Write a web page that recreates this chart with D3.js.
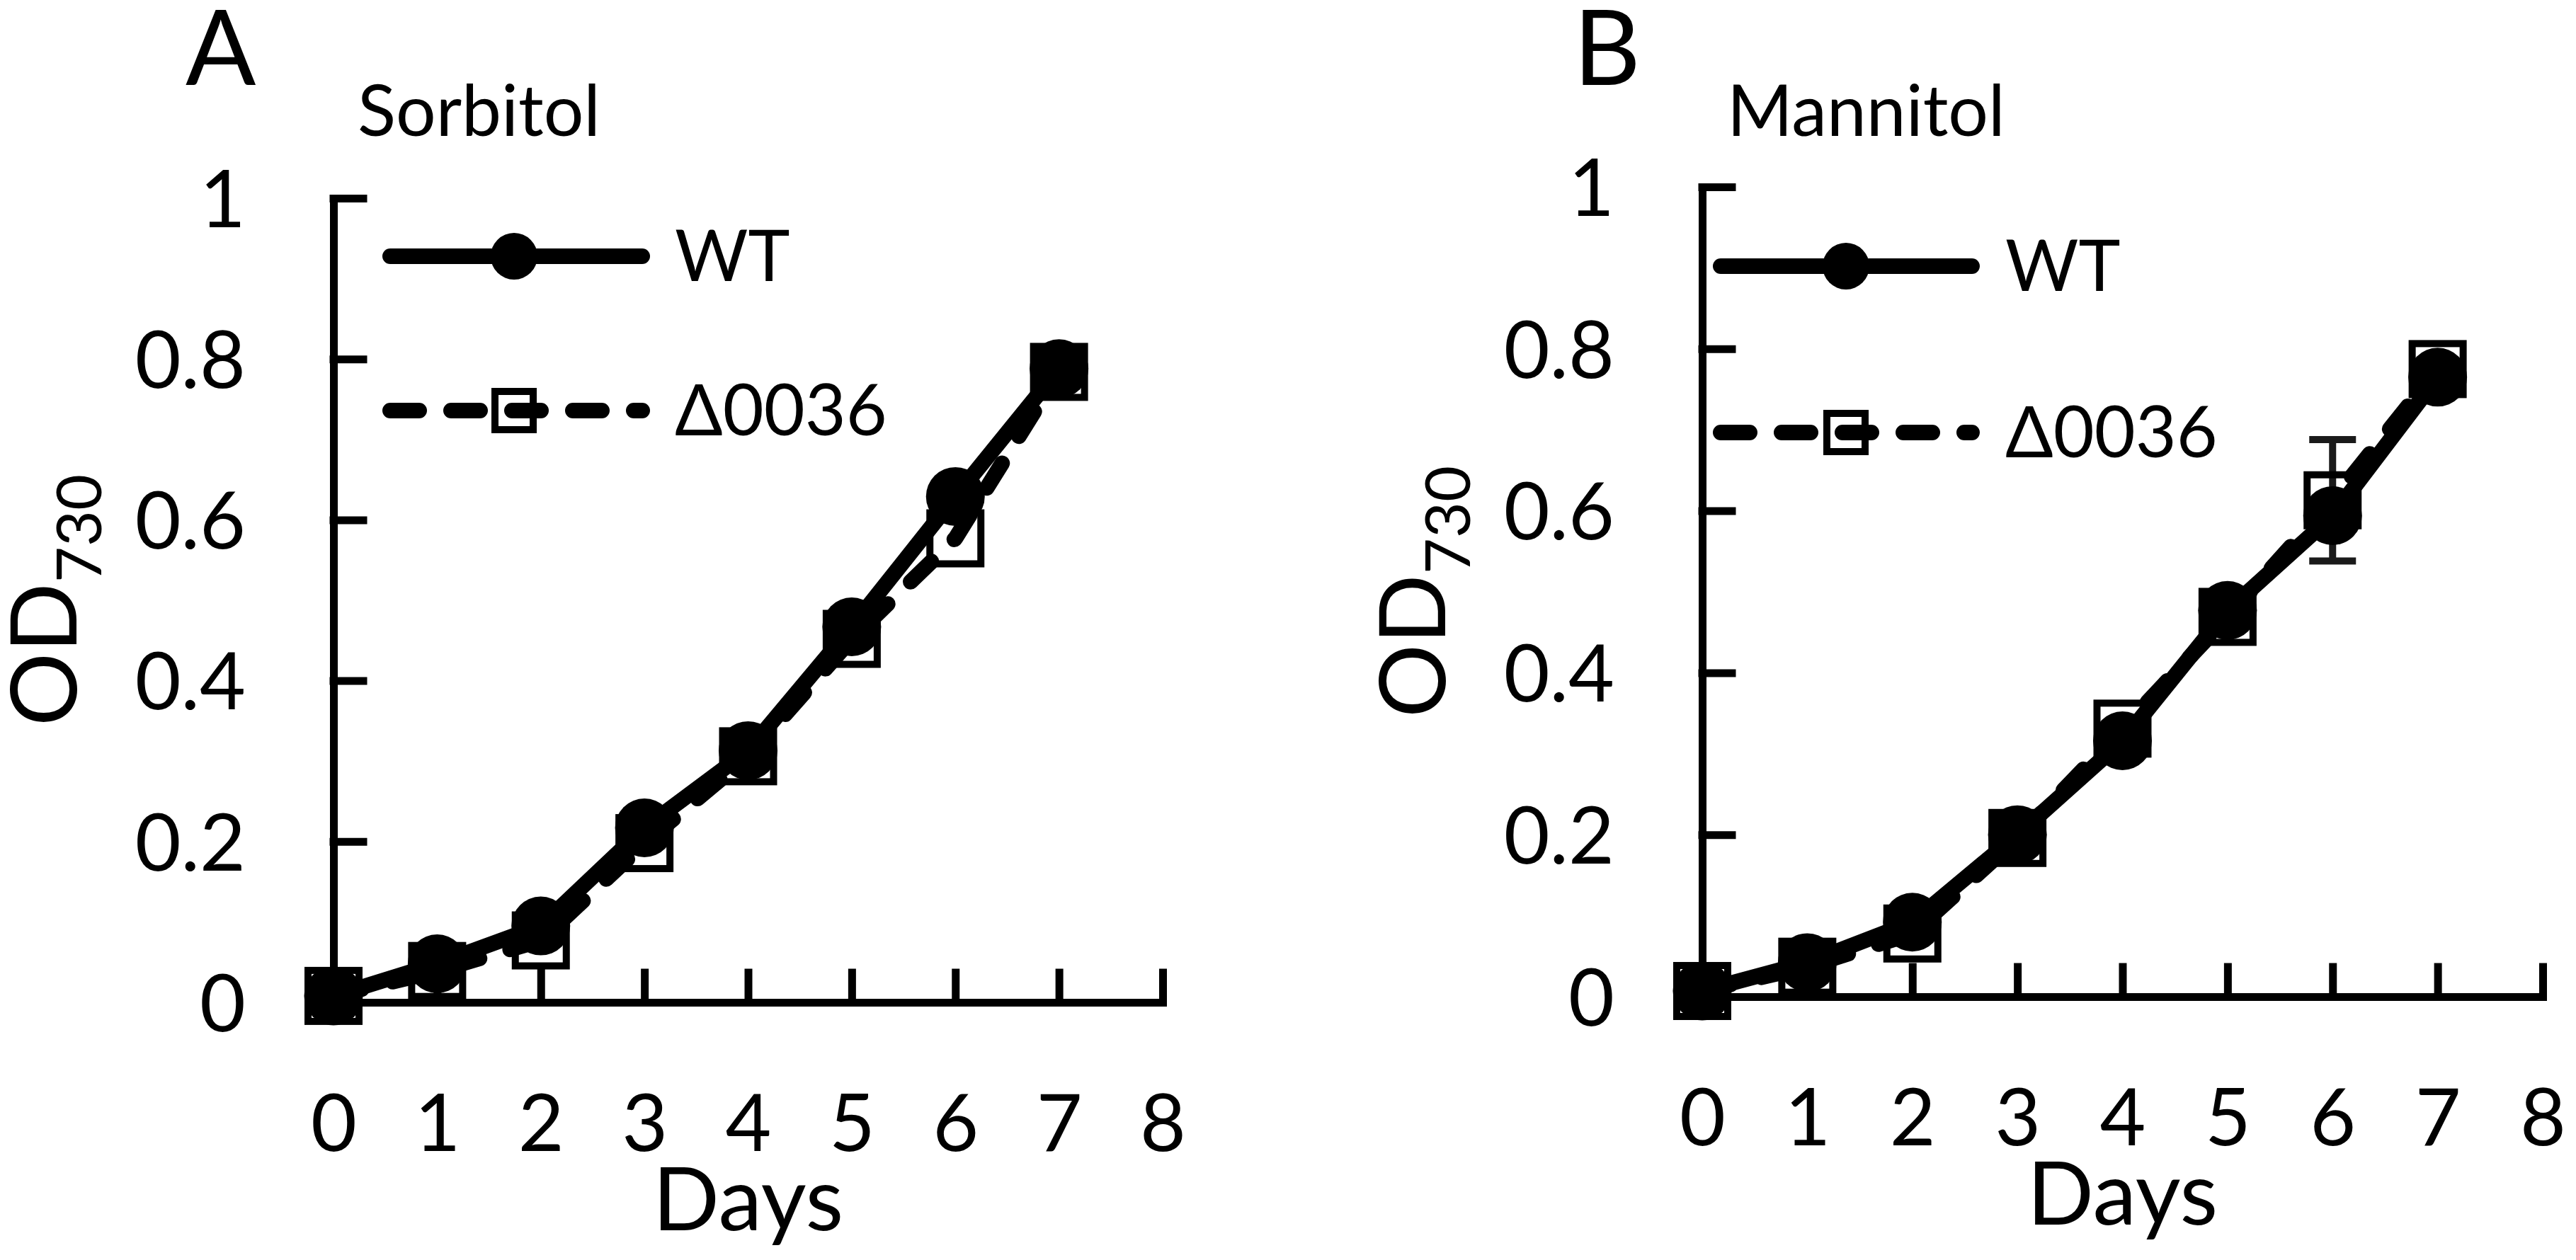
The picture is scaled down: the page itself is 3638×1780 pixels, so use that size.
<!DOCTYPE html>
<html>
<head>
<meta charset="utf-8">
<script src="https://cdn.jsdelivr.net/npm/d3@7"></script>
<style>
  body { margin: 0; background: #fff; }
  svg { display: block; }
  text { font-family: Lato, "Open Sans", sans-serif; fill: #000; }
</style>
</head>
<body>
<div id="chart"></div>
<script>
// values (OD730 per day)
const days = [0, 1, 2, 3, 4, 5, 6, 7];
const xTicks = [0, 1, 2, 3, 4, 5, 6, 7, 8];
const yTicks = [0, 0.2, 0.4, 0.6, 0.8, 1];
const seriesNames = ["WT", "Δ0036"];

const sorbitolWT  = [0.008, 0.048, 0.095, 0.217, 0.313, 0.467, 0.629, 0.788];
const sorbitolMut = [0.008, 0.039, 0.077, 0.198, 0.306, 0.452, 0.577, 0.784];
const sorbitolMutErr = [0, 0, 0, 0, 0, 0, 0, 0];

const mannitolWT  = [0.007, 0.042, 0.092, 0.200, 0.316, 0.477, 0.594, 0.765];
const mannitolMut = [0.007, 0.037, 0.078, 0.196, 0.331, 0.469, 0.613, 0.775];
const mannitolMutErr = [0, 0, 0, 0, 0, 0, 0.075, 0];

const W = 3638, H = 1780;

const panels = [
  { letter: "A", title: "Sorbitol", wt: sorbitolWT, mut: sorbitolMut, err: sorbitolMutErr,
    box: { left: 471, right: 1642, bottom: 1416, top: 280 },
    letterX: 262, titleX: 505,
    legend: { x0: 540, x1: 918, mark: 726, text: 953, rows: [362, 580] } },
  { letter: "B", title: "Mannitol", wt: mannitolWT, mut: mannitolMut, err: mannitolMutErr,
    box: { left: 2404, right: 3591, bottom: 1408, top: 264 },
    letterX: 2222, titleX: 2439,
    legend: { x0: 2419, x1: 2796, mark: 2607, text: 2832, rows: [376, 611] } }
];

const lineW = 22, axisW = 11, markR = 41.5, markSq = 82, legR = 33, legSq = 64;
const dash = "41,45";

const svg = d3.select("#chart").append("svg")
  .attr("width", W)
  .attr("height", H);

svg.append("rect").attr("width", W).attr("height", H).attr("fill", "#fff");

panels.forEach(p => {
  const b = p.box;
  const x = d3.scaleLinear().domain([0, 8]).range([b.left, b.right]);
  const y = d3.scaleLinear().domain([0, 1]).range([b.bottom, b.top]);
  const g = svg.append("g");

  // panel letter + condition
  g.append("text").attr("x", p.letterX).attr("y", 120)
    .attr("font-size", 147).text(p.letter);
  g.append("text").attr("x", p.titleX).attr("y", 192)
    .attr("font-size", 100).text(p.title);

  // axes, ticks pointing inward
  const xAxis = d3.axisBottom(x).tickValues(xTicks).tickFormat(d3.format("d"))
    .tickSize(-42).tickSizeOuter(0).tickPadding(130);
  const yAxis = d3.axisLeft(y).tickValues(yTicks).tickFormat(d => String(+d.toFixed(1)))
    .tickSize(-42).tickSizeOuter(0).tickPadding(124);

  const gx = g.append("g").attr("transform", `translate(0,${b.bottom})`).call(xAxis);
  const gy = g.append("g").attr("transform", `translate(${b.left},0)`).call(yAxis);
  [gx, gy].forEach(a => {
    a.selectAll("path, line").attr("stroke", "#000").attr("stroke-width", axisW)
      .attr("stroke-linecap", "square");
    a.selectAll("text").attr("font-size", 112).attr("font-family", "Lato");
  });
  gy.selectAll("text").attr("dy", "0.36em");

  // axis titles
  g.append("text")
    .attr("x", (b.left + b.right) / 2).attr("y", b.bottom + 322)
    .attr("text-anchor", "middle").attr("font-size", 124).text("Days");

  const yt = g.append("text")
    .attr("transform", `translate(${b.left - 363},${(b.top + b.bottom) / 2}) rotate(-90)`)
    .attr("text-anchor", "middle").attr("font-size", 130);
  yt.append("tspan").text("OD");
  yt.append("tspan").attr("font-size", 88).attr("dy", 35).text("730");

  const line = d3.line().x((d, i) => x(days[i])).y(d => y(d));

  // mutant: dashed line, error bars, open squares
  g.append("path").datum(p.mut)
    .attr("d", line).attr("fill", "none").attr("stroke", "#000")
    .attr("stroke-width", lineW).attr("stroke-dasharray", dash)
    .attr("stroke-linecap", "round").attr("stroke-linejoin", "round");

  const eb = g.append("g").attr("stroke", "#1a1a1a").attr("stroke-width", 10);
  days.forEach((d, i) => {
    const e = p.err[i];
    if (!e) return;
    const cx = x(d);
    eb.append("line").attr("x1", cx).attr("x2", cx)
      .attr("y1", y(p.mut[i] - e)).attr("y2", y(p.mut[i] + e));
    [p.mut[i] - e, p.mut[i] + e].forEach(v => {
      eb.append("line").attr("x1", cx - 33).attr("x2", cx + 33)
        .attr("y1", y(v)).attr("y2", y(v));
    });
  });

  g.append("g").selectAll("rect").data(p.mut).join("rect")
    .attr("x", (d, i) => x(days[i]) - markSq / 2 + 5)
    .attr("y", d => y(d) - markSq / 2 + 5)
    .attr("width", markSq - 10).attr("height", markSq - 10)
    .attr("fill", "none").attr("stroke", "#000").attr("stroke-width", 10);

  // WT: solid line, filled circles
  g.append("path").datum(p.wt)
    .attr("d", line).attr("fill", "none").attr("stroke", "#000")
    .attr("stroke-width", lineW).attr("stroke-linejoin", "round");

  g.append("g").selectAll("circle").data(p.wt).join("circle")
    .attr("cx", (d, i) => x(days[i]))
    .attr("cy", d => y(d))
    .attr("r", markR).attr("fill", "#000");

  // legend
  const L = p.legend;
  const lg = g.append("g");
  lg.append("line").attr("x1", L.x0 + 11).attr("x2", L.x1 - 11)
    .attr("y1", L.rows[0]).attr("y2", L.rows[0])
    .attr("stroke", "#000").attr("stroke-width", lineW).attr("stroke-linecap", "round");
  lg.append("circle").attr("cx", L.mark).attr("cy", L.rows[0]).attr("r", legR).attr("fill", "#000");
  lg.append("line").attr("x1", L.x0 + 11).attr("x2", L.x1 - 11)
    .attr("y1", L.rows[1]).attr("y2", L.rows[1])
    .attr("stroke", "#000").attr("stroke-width", lineW).attr("stroke-linecap", "round")
    .attr("stroke-dasharray", dash);
  lg.append("rect").attr("x", L.mark - legSq / 2 + 5).attr("y", L.rows[1] - legSq / 2 + 5)
    .attr("width", legSq - 10).attr("height", legSq - 10)
    .attr("fill", "none").attr("stroke", "#000").attr("stroke-width", 10);
  seriesNames.forEach((name, i) => {
    lg.append("text").attr("x", L.text).attr("y", L.rows[i] + 35)
      .attr("font-size", 100).text(name);
  });
});
</script>
</body>
</html>
